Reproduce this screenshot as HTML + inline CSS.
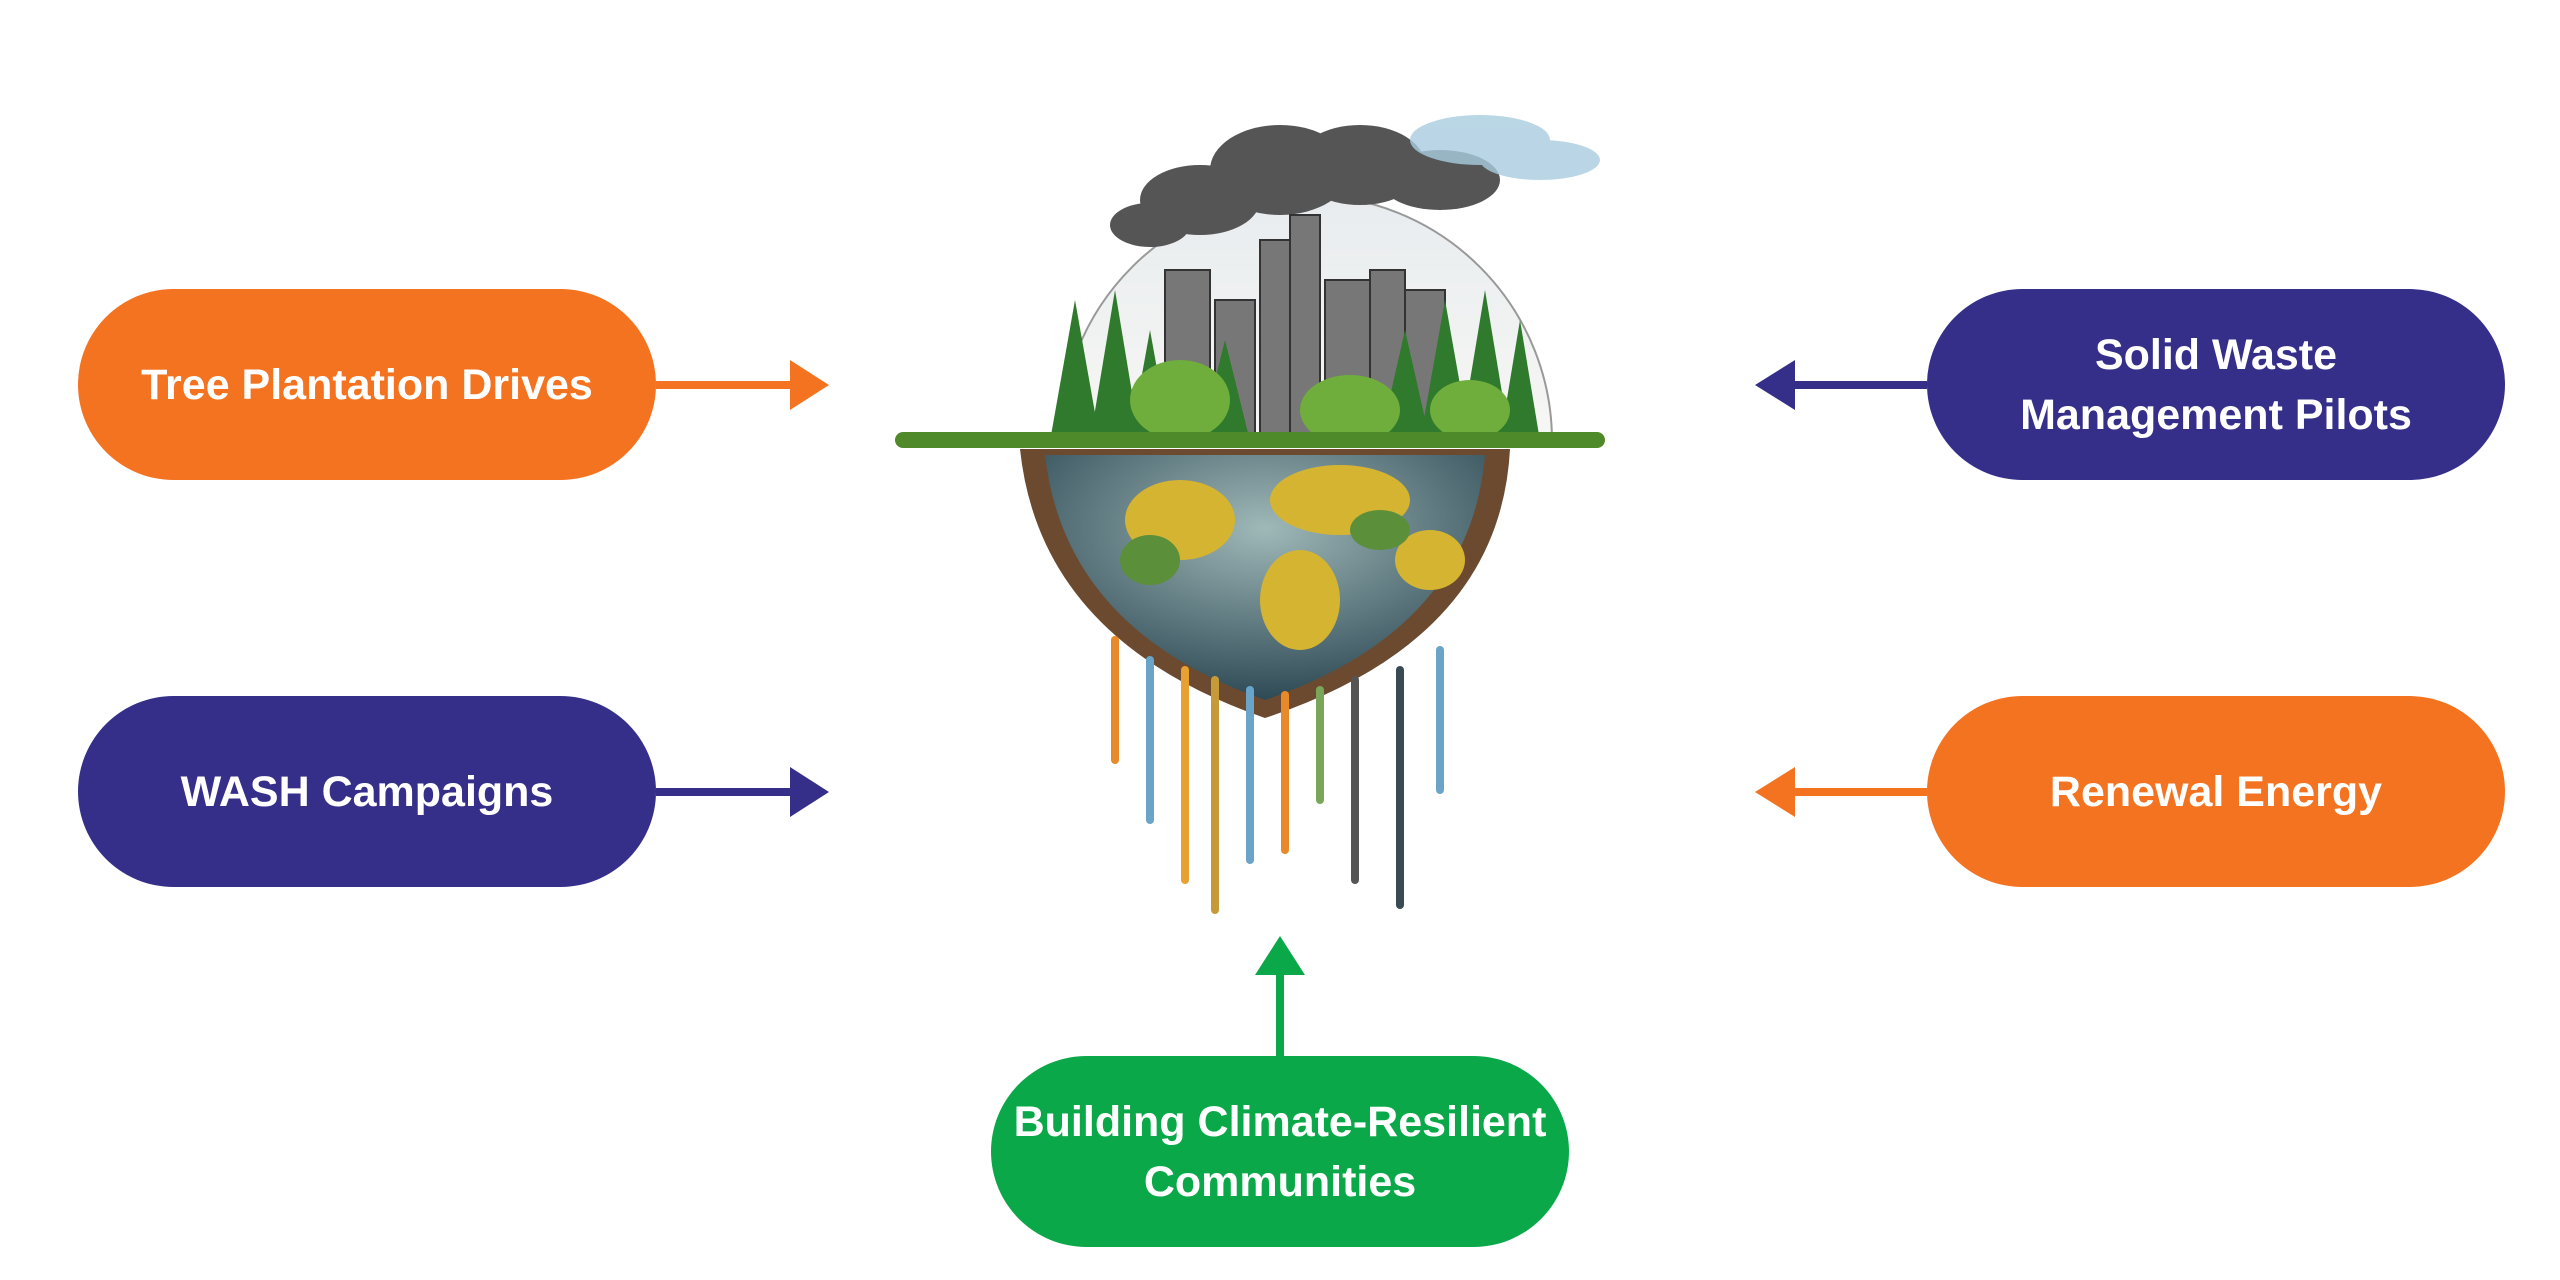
<!DOCTYPE html>
<html><head><meta charset="utf-8"><style>
html,body{margin:0;padding:0;background:#fff;}
body{width:2560px;height:1280px;position:relative;overflow:hidden;font-family:"Liberation Sans",sans-serif;}
.pill{position:absolute;width:578px;height:191px;border-radius:96px;color:#fff;font-weight:bold;font-size:43px;line-height:60px;display:flex;align-items:center;justify-content:center;text-align:center;}
.o{background:#F37321}.p{background:#352F8A}.g{background:#0BA84A}
svg{position:absolute;left:0;top:0}
</style></head><body>
<svg width="2560" height="1280" viewBox="0 0 2560 1280">
<defs>
<radialGradient id="sea" cx="50%" cy="30%" r="70%"><stop offset="0" stop-color="#9fb8b8"/><stop offset="1" stop-color="#2e4a55"/></radialGradient>
<linearGradient id="sky" x1="0" y1="0" x2="0" y2="1"><stop offset="0" stop-color="#e8ecef"/><stop offset="1" stop-color="#f7f7f4"/></linearGradient>
</defs>
<path d="M1060 441 A246 246 0 0 1 1552 441 Z" fill="url(#sky)" stroke="#999" stroke-width="2"/>
<g fill="#555"><ellipse cx="1200" cy="200" rx="60" ry="35"/><ellipse cx="1280" cy="170" rx="70" ry="45"/><ellipse cx="1360" cy="165" rx="65" ry="40"/><ellipse cx="1440" cy="180" rx="60" ry="30"/><ellipse cx="1150" cy="225" rx="40" ry="22"/></g>
<g fill="#a9cde0" opacity=".8"><ellipse cx="1480" cy="140" rx="70" ry="25"/><ellipse cx="1540" cy="160" rx="60" ry="20"/></g>
<g fill="#777" stroke="#333" stroke-width="2">
<rect x="1165" y="270" width="45" height="170"/><rect x="1215" y="300" width="40" height="140"/><rect x="1260" y="240" width="50" height="200"/><rect x="1290" y="215" width="30" height="225"/><rect x="1325" y="280" width="45" height="160"/><rect x="1370" y="270" width="35" height="170"/><rect x="1405" y="290" width="40" height="150"/></g>
<g fill="#2f7a2c">
<polygon points="1050,441 1075,300 1100,441"/><polygon points="1090,441 1115,290 1140,441"/><polygon points="1130,441 1150,330 1170,441"/><polygon points="1200,441 1225,340 1250,441"/>
<polygon points="1380,441 1405,330 1430,441"/><polygon points="1420,441 1445,300 1470,441"/><polygon points="1460,441 1485,290 1510,441"/><polygon points="1500,441 1520,320 1540,441"/></g>
<g fill="#6fae3c"><ellipse cx="1180" cy="400" rx="50" ry="40"/><ellipse cx="1350" cy="410" rx="50" ry="35"/><ellipse cx="1470" cy="410" rx="40" ry="30"/></g>
<rect x="895" y="432" width="710" height="16" rx="8" fill="#4f8a2a"/>
<path d="M1020 449 L1510 449 Q1500 640 1265 718 Q1040 640 1020 449 Z" fill="#6b4a2f"/>
<path d="M1045 455 L1485 455 Q1470 630 1265 700 Q1065 630 1045 455 Z" fill="url(#sea)"/>
<g fill="#d5b432"><ellipse cx="1180" cy="520" rx="55" ry="40"/><ellipse cx="1340" cy="500" rx="70" ry="35"/><ellipse cx="1300" cy="600" rx="40" ry="50"/><ellipse cx="1430" cy="560" rx="35" ry="30"/></g>
<g fill="#5b8f3a"><ellipse cx="1150" cy="560" rx="30" ry="25"/><ellipse cx="1380" cy="530" rx="30" ry="20"/></g>
<g stroke-width="8" stroke-linecap="round">
<line x1="1115" y1="640" x2="1115" y2="760" stroke="#e8892a"/><line x1="1150" y1="660" x2="1150" y2="820" stroke="#6aa4c9"/><line x1="1185" y1="670" x2="1185" y2="880" stroke="#e8a033"/>
<line x1="1215" y1="680" x2="1215" y2="910" stroke="#c59b3a"/><line x1="1250" y1="690" x2="1250" y2="860" stroke="#6aa4c9"/><line x1="1285" y1="695" x2="1285" y2="850" stroke="#e8892a"/>
<line x1="1320" y1="690" x2="1320" y2="800" stroke="#7aa65a"/><line x1="1355" y1="680" x2="1355" y2="880" stroke="#555"/><line x1="1400" y1="670" x2="1400" y2="905" stroke="#3a4a55"/><line x1="1440" y1="650" x2="1440" y2="790" stroke="#6aa4c9"/></g>
<g stroke-width="8" fill="none">
<line x1="656" y1="385" x2="795" y2="385" stroke="#F37321"/><line x1="656" y1="792" x2="795" y2="792" stroke="#352F8A"/>
<line x1="1927" y1="385" x2="1790" y2="385" stroke="#352F8A"/><line x1="1927" y1="792" x2="1790" y2="792" stroke="#F37321"/>
<line x1="1280" y1="1056" x2="1280" y2="970" stroke="#0BA84A"/></g>
<polygon points="790,360 829,385 790,410" fill="#F37321"/>
<polygon points="790,767 829,792 790,817" fill="#352F8A"/>
<polygon points="1795,360 1755,385 1795,410" fill="#352F8A"/>
<polygon points="1795,767 1755,792 1795,817" fill="#F37321"/>
<polygon points="1255,975 1280,936 1305,975" fill="#0BA84A"/>
</svg>
<div class="pill o" style="left:78px;top:289px">Tree Plantation Drives</div>
<div class="pill p" style="left:78px;top:696px">WASH Campaigns</div>
<div class="pill p" style="left:1927px;top:289px">Solid Waste<br>Management Pilots</div>
<div class="pill o" style="left:1927px;top:696px">Renewal Energy</div>
<div class="pill g" style="left:991px;top:1056px">Building Climate-Resilient<br>Communities</div>
</body></html>
